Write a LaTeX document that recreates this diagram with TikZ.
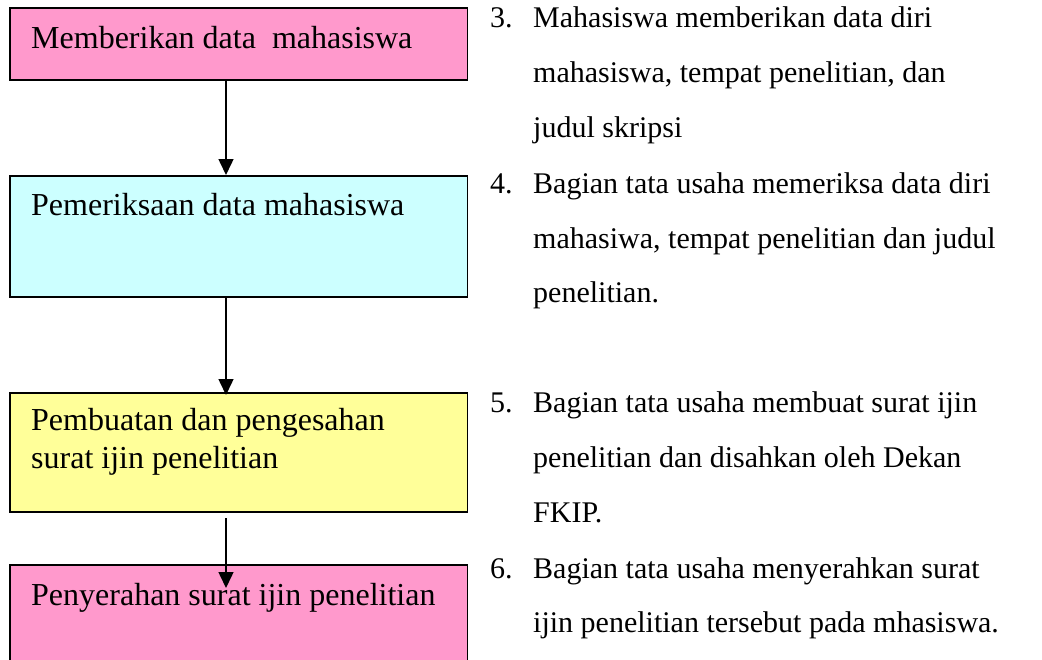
\documentclass[tikz,border=0pt]{standalone}
\usepackage{fontspec}
\setmainfont{Liberation Serif}
\usetikzlibrary{arrows.meta}
\definecolor{pinkc}{HTML}{FF99CC}
\definecolor{cyanc}{HTML}{CCFFFF}
\definecolor{yellowc}{HTML}{FFFF99}
\begin{document}
\begin{tikzpicture}[x=1pt,y=-1pt,
  box/.style={draw=black,line width=1.6pt,rectangle,inner sep=0pt,anchor=north west,minimum width=457.5pt},
  txt/.style={inner sep=0pt,anchor=base west,font=\fontsize{30}{34}\selectfont},
  btxt/.style={inner sep=0pt,anchor=base west,font=\fontsize{32}{36}\selectfont},
  arr/.style={line width=1.5pt,-{Triangle[width=15pt,length=16pt]}}]
\useasboundingbox (0,0) rectangle (1042,659);
\fill[white] (0,0) rectangle (1042,659);
% boxes
\node[box,fill=pinkc,minimum height=72pt] (b1) at (9,7) {};
\node[box,fill=cyanc,minimum height=121pt] (b2) at (9,175) {};
\node[box,fill=yellowc,minimum height=119pt] (b3) at (9,392) {};
\node[box,fill=pinkc,minimum height=130pt] (b4) at (9,564) {};
% box texts
\node[btxt] (t1) at (31,48) {Memberikan data\ \ mahasiswa};
\node[btxt] (t2) at (31,215) {Pemeriksaan data mahasiswa};
\node[btxt] (t3a) at (31,430) {Pembuatan dan pengesahan};
\node[btxt] (t3b) at (31,468) {surat ijin penelitian};
\node[btxt] (t4) at (31,605) {Penyerahan surat ijin penelitian};
% arrows
\coordinate (ax) at (226,0);
\coordinate (a3s) at (226,518);
\coordinate (a3e) at (226,588);
\draw[arr] (b1.south -| ax) -- (b2.north -| ax);
\draw[arr,shorten >=-3pt] (b2.south -| ax) -- (b3.north -| ax);
\draw[arr] (a3s) -- (a3e);
% right list
\node[txt] (n3) at (490,27) {3.};
\node[txt] (l3a) at (533,27) {Mahasiswa memberikan data diri};
\node[txt] (l3b) at (533,82) {mahasiswa, tempat penelitian, dan};
\node[txt] (l3c) at (533,137) {judul skripsi};
\node[txt] (n4) at (490,193) {4.};
\node[txt] (l4a) at (533,193) {Bagian tata usaha memeriksa data diri};
\node[txt] (l4b) at (533,248) {mahasiwa, tempat penelitian dan judul};
\node[txt] (l4c) at (533,302) {penelitian.};
\node[txt] (n5) at (490,412) {5.};
\node[txt] (l5a) at (533,412) {Bagian tata usaha membuat surat ijin};
\node[txt] (l5b) at (533,467) {penelitian dan disahkan oleh Dekan};
\node[txt] (l5c) at (533,522) {FKIP.};
\node[txt] (n6) at (490,578) {6.};
\node[txt] (l6a) at (533,578) {Bagian tata usaha menyerahkan surat};
\node[txt] (l6b) at (533,632) {ijin penelitian tersebut pada mhasiswa.};
\end{tikzpicture}
\end{document}
